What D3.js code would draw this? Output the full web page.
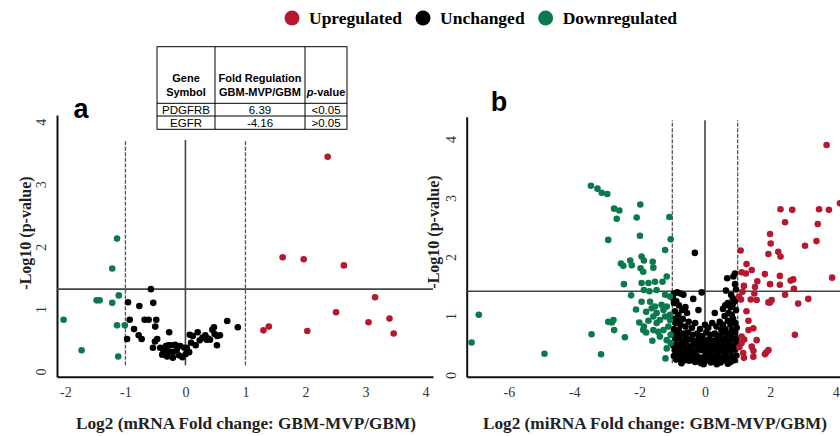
<!DOCTYPE html>
<html>
<head>
<meta charset="utf-8">
<script src="https://cdn.jsdelivr.net/npm/d3@7"></script>
<style>
  body { margin: 0; background: #fff; }
  svg  { display: block; }
</style>
</head>
<body>
<svg id="chart" width="840" height="436"></svg>
<script>
// ============================================================
// Volcano plots: mRNA (a) and miRNA (b), GBM-MVP vs GBM
// ============================================================

// ── Data ───────────────────────────────────────────────────
const legendLabels = ['Upregulated', 'Unchanged', 'Downregulated'];
const legendColors = ['#b5192f', '#000000', '#0a7a4c'];

const yTickValues     = [0, 1, 2, 3, 4];
const mrnaXTickValues = [-2, -1, 0, 1, 2, 3, 4];
const mirnaXTickValues = [-6, -4, -2, 0, 2, 4];

const foldCutoffs = [-1, 1];
const mrnaPCutoff  = 1.32;   // -log10(p) threshold line, panel a
const mirnaPCutoff = 1.42;   // panel b

const tableHeader = [['Gene', 'Symbol'], ['Fold Regulation', 'GBM-MVP/GBM'], ['', 'p-value']];
const tableRows   = [['PDGFRB', '6.39', '<0.05'], ['EGFR', '-4.16', '>0.05']];

// panel a  [log2 fold change, -log10 p]
const mrnaUp = [[2.37,3.44],[1.62,1.83],[1.97,1.80],[2.64,1.70],[3.16,1.19],[2.51,0.95],
  [3.05,0.79],[3.40,0.85],[3.47,0.61],[1.30,0.66],[1.39,0.72],[2.03,0.65]];
const mrnaDown = [[-1.14,2.13],[-1.22,1.65],[-1.11,1.22],[-1.48,1.14],[-1.43,1.14],[-1.22,1.10],
  [-2.03,0.83],[-1.14,0.74],[-1.01,0.74],[-1.73,0.34],[-1.12,0.24]];
const mrnaNone = [[-0.575,1.32],[-0.956,1.11],[-0.536,1.10],[-0.768,1.05],[-0.928,0.83],[-0.680,0.83],
  [-0.613,0.83],[-0.486,0.83],[-0.856,0.68],[-0.503,0.72],[-0.972,0.52],[-0.779,0.58],[-0.729,0.52],
  [-0.470,0.52],[-0.508,0.48],[-0.541,0.38],[-0.271,0.63],[-0.326,0.41],[-0.287,0.42],[-0.243,0.42],
  [-0.387,0.27],[-0.304,0.24],[-0.282,0.32],[-0.210,0.31],[-0.110,0.26],[-0.050,0.23],[0.006,0.28],
  [0.061,0.31],[-0.017,0.38],[0.072,0.59],[0.122,0.57],[0.171,0.42],[0.204,0.63],[0.238,0.50],
  [0.282,0.54],[0.331,0.58],[0.381,0.53],[0.409,0.51],[0.448,0.67],[0.486,0.60],[0.530,0.57],
  [0.575,0.58],[0.525,0.42],[0.475,0.71],[0.696,0.81],[0.873,0.71],[-0.144,0.35],[-0.171,0.43],
  [-0.088,0.41],[0.022,0.38],[-0.420,0.38],[-0.365,0.33],[-0.210,0.22],[0.094,0.46],[0.354,0.51]];

// panel b
const mirnaUp = [[3.72,3.90],[4.13,2.91],[2.31,2.81],[2.67,2.80],[3.49,2.81],[3.79,2.80],[2.45,2.59],
  [3.45,2.56],[3.06,2.19],[3.41,2.27],[1.99,2.39],[2.01,2.23],[1.09,2.11],[1.94,2.05],[2.24,2.09],
  [2.31,2.01],[1.27,1.88],[1.43,1.78],[1.12,1.74],[1.25,1.72],[1.60,1.59],[1.83,1.71],[1.99,1.54],
  [2.29,1.68],[2.29,1.53],[2.62,1.60],[2.70,1.62],[3.89,1.65],[2.72,1.46],[2.45,1.36],[3.16,1.29],
  [2.85,1.21],[1.53,1.49],[1.51,1.38],[1.19,1.51],[1.15,1.41],[1.10,1.28],[1.40,1.28],[1.99,1.23],
  [2.04,1.27],[1.94,1.23],[1.27,1.08],[1.33,0.92],[1.48,0.79],[1.33,0.76],[1.58,0.59],[1.43,0.48],
  [1.48,0.41],[1.20,0.60],[1.12,0.54],[1.05,0.47],[1.17,0.37],[1.19,0.29],[1.48,0.31],[1.83,0.35],
  [1.94,0.42],[1.87,0.38],[2.75,0.68],[1.12,0.65],[1.58,1.27],[1.04,1.33]];
const mirnaDown = [[-7.14,0.55],[-6.92,1.02],[-4.91,0.36],[-3.47,0.69],[-3.18,0.35],[-3.49,3.21],
  [-3.29,3.16],[-3.16,3.09],[-2.99,3.07],[-2.78,2.82],[-2.62,2.79],[-2.70,2.65],[-2.96,2.29],
  [-1.98,2.89],[-2.09,2.67],[-1.99,2.36],[-1.09,2.68],[-1.05,2.30],[-1.22,2.12],[-2.57,1.89],
  [-2.50,1.85],[-2.29,1.94],[-2.24,1.86],[-1.94,2.01],[-1.87,1.94],[-1.97,1.81],[-1.89,1.75],
  [-1.60,1.92],[-1.58,1.82],[-2.48,1.54],[-1.94,1.56],[-1.73,1.56],[-1.53,1.58],[-1.30,1.58],
  [-1.17,1.67],[-2.26,1.35],[-1.87,1.44],[-1.70,1.42],[-1.48,1.44],[-1.22,1.36],[-1.07,1.33],
  [-1.94,1.24],[-1.68,1.24],[-1.53,1.16],[-1.33,1.19],[-1.17,1.16],[-2.11,1.11],[-1.80,1.07],
  [-1.63,1.13],[-1.48,1.05],[-1.27,1.10],[-1.07,1.02],[-2.96,0.90],[-2.80,0.93],[-2.85,0.89],
  [-2.78,0.76],[-2.45,0.64],[-2.01,0.89],[-1.87,0.82],[-1.73,0.92],[-1.58,0.99],[-1.48,0.88],
  [-1.38,0.93],[-1.22,0.99],[-1.07,0.93],[-1.89,0.76],[-1.80,0.72],[-1.58,0.76],[-1.43,0.73],
  [-1.27,0.76],[-1.12,0.82],[-1.61,0.58],[-1.38,0.65],[-1.17,0.59],[-1.05,0.68],[-1.17,0.45],
  [-1.21,0.28],[-1.05,0.54]];
const mirnaNone = [
  [-0.95,1.38],[-0.85,1.40],[-0.75,1.38],[-0.66,1.36],[-0.31,2.07],[-0.36,1.29],[-0.10,1.40],[0.64,1.43],
  [0.68,1.64],[0.87,1.67],[0.92,1.72],[0.92,1.54],[0.80,1.36],[0.95,1.45],[-0.98,1.30],[0.85,1.30],
  [-0.95,1.22],[-0.88,1.25],[-0.80,1.18],[-0.70,1.10],[-0.92,1.08],[-0.60,1.15],[-0.55,1.05],[-0.82,1.02],
  [0.55,1.12],[0.62,1.18],[0.70,1.22],[0.78,1.15],[0.85,1.20],[0.92,1.25],[0.95,1.10],[0.72,1.05],
  [0.82,1.02],[0.60,1.00],[0.30,1.05],[-0.20,1.10],
  [-0.97,0.95],[-0.90,0.88],[-0.84,0.92],[-0.75,0.85],[-0.68,0.95],[-0.60,0.82],[-0.50,0.90],[-0.40,0.80],
  [-0.30,0.88],[-0.15,0.78],[0.00,0.85],[0.10,0.80],[0.22,0.88],[0.35,0.82],[0.45,0.90],[0.55,0.85],
  [0.62,0.78],[0.70,0.92],[0.78,0.85],[0.86,0.95],[0.93,0.88],[0.97,0.80],[-0.95,0.78],[-0.80,0.76],
  [0.50,0.76],[0.82,0.76],
  [-0.96,0.70],[-0.90,0.62],[-0.85,0.72],[-0.78,0.66],[-0.72,0.58],[-0.65,0.70],[-0.58,0.63],[-0.52,0.72],
  [-0.45,0.60],[-0.38,0.68],[-0.30,0.58],[-0.24,0.70],[-0.18,0.62],[-0.10,0.66],[-0.03,0.58],[0.04,0.72],
  [0.10,0.60],[0.17,0.68],[0.24,0.58],[0.30,0.70],[0.37,0.62],[0.44,0.67],[0.50,0.58],[0.56,0.72],
  [0.62,0.62],[0.68,0.70],[0.74,0.58],[0.80,0.66],[0.86,0.60],[0.92,0.72],[0.97,0.62],[-0.62,0.56],
  [0.20,0.55],[-0.20,0.55],
  [-0.97,0.50],[-0.92,0.42],[-0.87,0.52],[-0.82,0.45],[-0.76,0.40],[-0.70,0.50],[-0.64,0.43],[-0.58,0.52],
  [-0.53,0.40],[-0.47,0.48],[-0.41,0.42],[-0.35,0.52],[-0.29,0.40],[-0.23,0.47],[-0.17,0.53],[-0.11,0.42],
  [-0.05,0.49],[0.01,0.40],[0.07,0.52],[0.13,0.45],[0.19,0.40],[0.25,0.50],[0.31,0.43],[0.37,0.53],
  [0.43,0.41],[0.49,0.48],[0.55,0.40],[0.61,0.52],[0.67,0.44],[0.73,0.50],[0.79,0.41],[0.85,0.49],
  [0.91,0.43],[0.96,0.53],[-0.60,0.38],[0.40,0.38],
  [-0.95,0.32],[-0.88,0.26],[-0.82,0.35],[-0.75,0.28],[-0.68,0.33],[-0.62,0.25],[-0.55,0.31],[-0.48,0.24],
  [-0.42,0.34],[-0.36,0.27],[-0.30,0.22],[-0.24,0.32],[-0.18,0.25],[-0.12,0.20],[-0.06,0.30],[0.00,0.23],
  [0.06,0.34],[0.12,0.26],[0.18,0.21],[0.24,0.31],[0.30,0.24],[0.36,0.33],[0.42,0.26],[0.48,0.21],
  [0.54,0.30],[0.60,0.25],[0.66,0.34],[0.72,0.27],[0.78,0.22],[0.84,0.31],[0.90,0.25],[0.96,0.33],
  [-0.72,0.20],[-0.04,0.18],[0.36,0.18],[0.70,0.19]];

// ── Layout ─────────────────────────────────────────────────
const SERIF = "'Liberation Serif', 'Times New Roman', serif";
const SANS  = "'Liberation Sans', Arial, sans-serif";
const DOT_R = 3.3;

const panels = [
  {
    letter: 'a', letterX: 81, letterY: 118,
    xRange: [57, 433], yRange: [376.7, 115],
    xDomain: [-2.14, 4.125], yDomain: [-0.083, 4.11],
    xTicks: mrnaXTickValues, pCutoff: mrnaPCutoff, vLineY: [0.10, 3.71],
    yLabelX: 41.7, yTitleX: 25, yTitleY: 233,
    xTitle: 'Log2 (mRNA Fold change: GBM-MVP/GBM)', xTitleX: 246, xTitleW: 340,
    up: mrnaUp, none: mrnaNone, down: mrnaDown
  },
  {
    letter: 'b', letterX: 499, letterY: 111,
    xRange: [466.7, 840], yRange: [376.7, 116.7],
    xDomain: [-7.29, 4.13], yDomain: [-0.03, 4.38],
    xTicks: mirnaXTickValues, pCutoff: mirnaPCutoff, vLineY: [0.20, 4.32],
    yLabelX: 451.7, yTitleX: 433, yTitleY: 232,
    xTitle: 'Log2 (miRNA Fold change: GBM-MVP/GBM)', xTitleX: 655, xTitleW: 344,
    up: mirnaUp, none: mirnaNone, down: mirnaDown
  }
];

const svg = d3.select('#chart');

// ── Panels ─────────────────────────────────────────────────
panels.forEach(p => {
  const x = d3.scaleLinear().domain(p.xDomain).range(p.xRange);
  const y = d3.scaleLinear().domain(p.yDomain).range(p.yRange);
  const g = svg.append('g');

  // axes (no tick marks, just line + labels)
  const xAxis = g.append('g')
    .attr('transform', `translate(0,${p.yRange[0]})`)
    .call(d3.axisBottom(x).tickValues(p.xTicks).tickSize(0).tickFormat(d => String(d)));
  const yAxis = g.append('g')
    .attr('transform', `translate(${p.xRange[0]},0)`)
    .call(d3.axisLeft(y).tickValues(yTickValues).tickSize(0).tickFormat(d => String(d)));

  [xAxis, yAxis].forEach(a => {
    a.select('.domain').attr('stroke', '#111').attr('stroke-width', 2);
    a.selectAll('text').attr('font-family', SERIF).attr('font-size', 14).attr('fill', '#333');
  });
  xAxis.selectAll('text').attr('dy', null).attr('y', 20.5);
  yAxis.selectAll('text')
    .attr('x', null).attr('dy', null)
    .attr('text-anchor', 'middle')
    .attr('dominant-baseline', 'central')
    .attr('transform', `translate(${p.yLabelX - p.xRange[0]},0) rotate(-90)`);

  // threshold lines
  g.append('line')
    .attr('x1', p.xRange[0]).attr('x2', p.xRange[1])
    .attr('y1', y(p.pCutoff)).attr('y2', y(p.pCutoff))
    .attr('stroke', '#444').attr('stroke-width', 1.6);
  g.append('line')
    .attr('x1', x(0)).attr('x2', x(0))
    .attr('y1', y(p.vLineY[0])).attr('y2', y(p.vLineY[1]))
    .attr('stroke', '#444').attr('stroke-width', 1.6);
  g.selectAll('.cut')
    .data(foldCutoffs)
    .enter()
    .append('line')
    .attr('x1', d => x(d)).attr('x2', d => x(d))
    .attr('y1', y(p.vLineY[0])).attr('y2', y(p.vLineY[1]))
    .attr('stroke', '#555').attr('stroke-width', 1.3)
    .attr('stroke-dasharray', '4,1.5');

  // points
  [[p.none, legendColors[1]], [p.down, legendColors[2]], [p.up, legendColors[0]]].forEach(([pts, col]) => {
    g.append('g').selectAll('circle')
      .data(pts)
      .enter()
      .append('circle')
      .attr('cx', d => x(d[0]))
      .attr('cy', d => y(d[1]))
      .attr('r', DOT_R)
      .attr('fill', col);
  });

  // titles
  g.append('text')
    .attr('transform', `translate(${p.yTitleX},${p.yTitleY}) rotate(-90)`)
    .attr('text-anchor', 'middle')
    .attr('dominant-baseline', 'central')
    .attr('font-family', SERIF).attr('font-weight', 'bold').attr('font-size', 16)
    .attr('fill', '#222')
    .text('-Log10 (p-value)');
  g.append('text')
    .attr('x', p.xTitleX).attr('y', 429)
    .attr('text-anchor', 'middle')
    .attr('font-family', SERIF).attr('font-weight', 'bold').attr('font-size', 17)
    .attr('textLength', p.xTitleW).attr('lengthAdjust', 'spacingAndGlyphs')
    .attr('fill', '#222')
    .text(p.xTitle);

  // panel letter
  g.append('text')
    .attr('x', p.letterX).attr('y', p.letterY)
    .attr('text-anchor', 'middle')
    .attr('font-family', SANS).attr('font-weight', 'bold').attr('font-size', 27)
    .text(p.letter);
});

// ── Legend ─────────────────────────────────────────────────
let lx = 292;
legendLabels.forEach((lab, i) => {
  svg.append('circle').attr('cx', lx).attr('cy', 18).attr('r', 7.5).attr('fill', legendColors[i]);
  const t = svg.append('text')
    .attr('x', lx + 17).attr('y', 24)
    .attr('font-family', SERIF).attr('font-weight', 'bold').attr('font-size', 17.5)
    .text(lab);
  lx += 17 + t.node().getComputedTextLength() + 21;
});

// ── Gene table ─────────────────────────────────────────────
const colEdges = [157, 215, 305, 347];
const rowEdges = [46.7, 103.3, 116, 129.3];
const tbl = svg.append('g');

tbl.append('rect')
  .attr('x', colEdges[0]).attr('y', rowEdges[0])
  .attr('width', colEdges[3] - colEdges[0]).attr('height', rowEdges[3] - rowEdges[0])
  .attr('fill', '#fff').attr('stroke', '#000').attr('stroke-width', 1);
colEdges.slice(1, 3).forEach(cx => {
  tbl.append('line').attr('x1', cx).attr('x2', cx).attr('y1', rowEdges[0]).attr('y2', rowEdges[3])
    .attr('stroke', '#000').attr('stroke-width', 1);
});
rowEdges.slice(1, 3).forEach(ry => {
  tbl.append('line').attr('x1', colEdges[0]).attr('x2', colEdges[3]).attr('y1', ry).attr('y2', ry)
    .attr('stroke', '#000').attr('stroke-width', 1);
});

const colMid = i => (colEdges[i] + colEdges[i + 1]) / 2;
tableHeader.forEach((lines, i) => {
  lines.forEach((ln, j) => {
    if (!ln) return;
    const t = tbl.append('text')
      .attr('x', colMid(i)).attr('y', 82 + j * 13.5)
      .attr('text-anchor', 'middle')
      .attr('font-family', SANS).attr('font-weight', 'bold').attr('font-size', 11);
    if (ln === 'p-value') {
      t.append('tspan').attr('font-style', 'italic').text('p');
      t.append('tspan').text('-value');
    } else {
      t.text(ln);
    }
  });
});
tableRows.forEach((row, r) => {
  row.forEach((cell, i) => {
    tbl.append('text')
      .attr('x', colMid(i)).attr('y', 113.5 + r * 13)
      .attr('text-anchor', 'middle')
      .attr('font-family', SANS).attr('font-size', 11.5)
      .text(cell);
  });
});
</script>
</body>
</html>
